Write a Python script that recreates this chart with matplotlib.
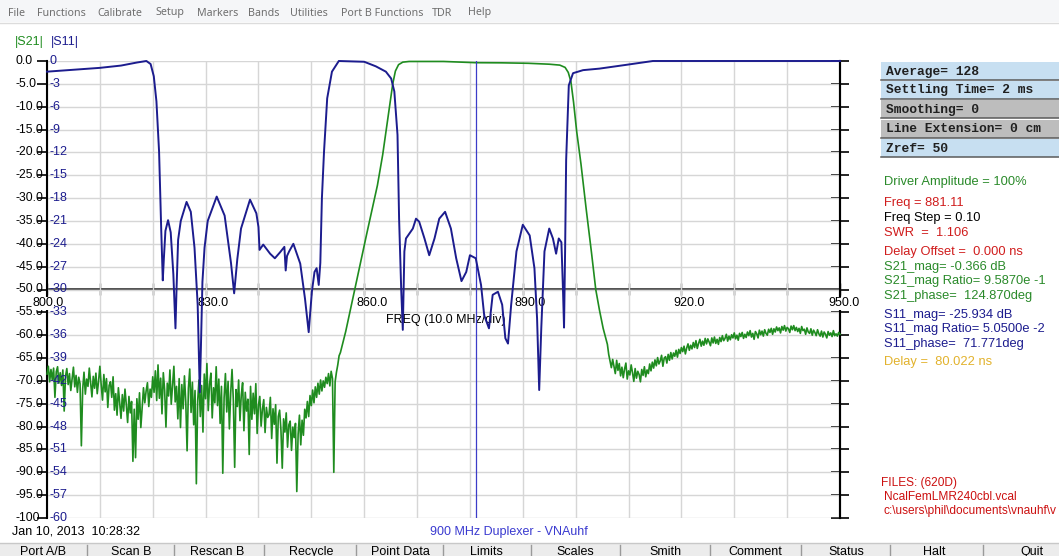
import numpy as np
import matplotlib
matplotlib.use("Agg")
import matplotlib.pyplot as plt
from matplotlib.patches import Rectangle
from matplotlib.transforms import offset_copy

# ---------------- data ----------------
# |S21| noisy stop band 800.00 .. 855.25 MHz (0.25 MHz step)
s21_low_db = [
    -68.5, -66.8, -70.2, -67.5,  -69.8, -67.2, -73.6, -68.0,
    -66.9, -70.5, -68.2, -71.0,  -67.6, -76.6, -69.0, -67.3,
    -70.8, -68.4, -72.1, -69.5,  -67.0, -71.3, -68.8, -72.5,
    -69.2, -70.6, -84.2, -71.8,  -68.1, -72.9, -69.6, -71.2,
    -67.2, -70.4, -73.5, -69.0,  -71.6, -68.3, -72.8, -70.1,
    -66.8, -70.9, -74.2, -68.6,  -72.4, -69.5, -75.8, -71.0,
    -70.2, -73.6, -69.1, -76.4,  -72.8, -77.5, -71.5, -74.9,
    -78.2, -73.0, -76.6, -71.8,  -75.2, -79.1, -73.4, -77.0,
    -74.5, -87.6, -76.2, -86.8,  -73.9, -78.4, -72.6, -80.2,
    -76.0, -71.5, -74.8, -72.2,  -70.4, -75.6, -71.8, -73.6,
    -69.1, -72.5, -67.8, -74.3,  -66.5, -73.8, -69.4, -77.2,
    -68.2, -72.0, -80.1, -70.5,  -73.3, -67.6, -75.1, -70.9,
    -66.8, -74.6, -71.2, -78.3,  -69.5, -80.2, -70.8, -76.1,
    -68.9, -74.7, -85.3, -71.6,  -67.4, -76.9, -70.3, -79.6,
    -72.1, -92.5, -74.4, -69.8,  -77.8, -71.0, -81.2, -68.5,
    -73.9, -66.2, -76.5, -70.7,  -68.3, -78.1, -71.5, -74.8,
    -66.9, -75.4, -69.6, -79.3,  -71.2, -90.2, -73.7, -68.4,
    -76.8, -70.1, -80.5, -72.6,  -67.5, -74.3, -88.9, -71.9,
    -75.6, -69.8, -78.7, -73.1,  -70.4, -80.9, -72.5, -76.6,
    -74.0, -86.1, -71.2, -78.4,  -72.7, -77.2, -70.6, -81.5,
    -75.3, -73.4, -79.9, -76.2,  -74.1, -81.3, -75.8, -78.0,
    -77.4, -73.6, -82.6, -76.1,  -79.5, -75.2, -88.0, -77.8,
    -76.4, -80.7, -89.1, -78.3,  -81.2, -77.0, -84.5, -79.6,
    -78.8, -85.2, -80.1, -82.4,  -79.3, -94.2, -81.7, -77.5,
    -84.0, -78.6, -81.9, -76.2,  -78.1, -74.5, -77.8, -73.2,
    -75.4, -72.0, -74.8, -71.3,  -73.6, -70.5, -72.9, -69.8,
    -72.2, -70.0, -71.4, -69.2,  -70.6, -68.4, -71.1, -67.9,
    -69.5, -90.0, -70.2, -68.1,  -66.5, -64.5,
]
s21_low_start_mhz = 800.0
sweep_step_mhz = 0.25

# |S21| pass band (smooth part)
s21_pass_mhz = [855.5, 856.5, 857.5, 858.5, 859.5, 860.5, 861.5, 862.5, 863.5, 864.3,
                864.9, 865.4, 865.9, 866.5, 867.3, 868.5, 875.0, 881.11, 886.0, 891.0,
                895.0, 897.0, 898.0, 898.6, 899.1, 899.6, 900.2, 901.0, 902.0, 903.0,
                903.8, 904.5, 905.2, 906.0]
s21_pass_db = [-63.8, -59.2, -53.8, -48.4, -43.0, -37.7, -32.5, -27.2, -20.5, -14.0,
               -9.0, -5.0, -2.2, -0.8, -0.25, -0.1, -0.1, -0.37, -0.4, -0.5,
               -0.7, -0.9, -1.4, -2.5, -4.5, -9.0, -15.5, -22.5, -32.5, -42.0,
               -50.0, -54.5, -58.5, -62.0]

# |S21| noisy upper stop band 906.25 .. 950.00 MHz (0.25 MHz step)
s21_high_db = [
    -64.2, -65.6, -67.1, -65.3,
    -66.8, -68.4, -65.5, -67.7,  -66.2, -68.9, -67.0, -69.3,
    -67.4, -66.1, -69.6, -67.8,  -68.7, -66.5, -68.2, -70.1,
    -67.3, -69.4, -67.9, -68.6,  -70.2, -67.5, -68.8, -66.9,
    -69.1, -67.6, -68.4, -66.3,  -67.8, -65.9, -67.2, -65.4,
    -66.7, -64.9, -66.3, -65.6,  -64.4, -66.8, -65.0, -64.7,
    -66.1, -64.2, -65.5, -63.8,  -65.2, -63.9, -64.6, -63.3,
    -64.8, -63.1, -64.0, -62.7,  -63.6, -62.4, -64.1, -62.8,
    -61.9, -63.3, -62.2, -63.0,  -61.6, -62.7, -61.2, -62.9,
    -61.8, -60.9, -62.4, -61.3,  -62.2, -60.7, -61.9, -60.8,
    -61.5, -62.3, -60.6, -61.7,  -60.4, -61.8, -60.9, -62.0,
    -60.5, -61.4, -60.1, -61.2,  -60.7, -59.8, -61.3, -60.2,
    -61.0, -59.9, -60.6, -59.5,  -60.8, -60.0, -61.1, -59.6,
    -60.3, -59.4, -60.7, -59.8,  -60.5, -59.3, -60.1, -59.0,
    -60.4, -59.6, -60.9, -59.2,  -59.7, -60.6, -58.9, -59.9,
    -59.1, -60.2, -58.8, -59.6,  -60.0, -58.7, -59.4, -58.5,
    -59.8, -58.6, -59.3, -58.2,  -59.0, -58.4, -59.5, -58.1,
    -58.9, -57.9, -59.1, -58.3,  -58.6, -59.4, -58.0, -58.8,
    -57.9, -59.0, -58.3, -59.2,  -58.5, -59.6, -58.1, -59.0,
    -58.7, -59.8, -58.4, -59.3,  -59.6, -58.6, -60.0, -58.9,
    -59.4, -60.1, -58.8, -59.7,  -60.2, -59.1, -60.4, -59.3,
    -59.8, -60.6, -59.2, -60.0,  -59.5, -60.3, -59.0, -60.1,
    -59.7, -60.2, -59.4, -59.8,
]
s21_high_start_mhz = 906.25

# |S11|
s11_mhz = [800, 805, 810, 814, 817, 818.8, 819.6, 820.2, 820.7, 821.2,
           821.6, 821.9, 822.1, 822.4, 822.9, 823.4, 823.9, 824.3, 824.5, 824.8,
           825.3, 826.4, 827.2, 827.9, 828.5, 828.9, 829.1, 829.4, 829.8, 830.4,
           832.1, 833.6, 834.8, 835.4, 836.0, 836.7, 838.4, 839.6, 840.0, 840.2,
           840.9, 842.2, 843.1, 844.1, 844.9, 845.15, 845.4, 845.8, 846.6, 847.9,
           848.8, 849.5, 850.1, 850.6, 851.0, 851.4, 851.7, 852.0, 852.4, 853.0,
           853.9, 855.2, 860.0, 862.2, 864.1, 865.1, 865.7, 866.3, 866.6, 867.0,
           867.3, 867.6, 867.9, 869.2, 869.8, 870.4, 871.4, 872.3, 873.3, 874.2,
           875.3, 876.4, 877.4, 878.4, 879.3, 880.0, 881.1, 882.1, 882.7, 883.6,
           884.3, 885.3, 886.1, 886.7, 887.2, 887.8, 888.8, 890.0, 891.3, 892.2,
           892.7, 893.1, 893.5, 894.1, 895.0, 895.7, 896.3, 896.8, 897.3, 897.6,
           897.8, 898.0, 898.2, 898.7, 899.5, 901.4, 904.5, 909.6, 914.6, 950.0]
s11_db = [-1.4, -1.15, -0.9, -0.6, -0.2, 0.0, -0.4, -2.0, -5.3, -11.9,
          -22.0, -28.8, -26.0, -22.3, -20.9, -22.5, -28.0, -35.1, -30.0, -23.5,
          -21.0, -18.5, -19.8, -24.5, -32.0, -43.5, -38.0, -29.0, -24.5, -21.0,
          -17.8, -20.3, -26.5, -30.5, -26.0, -22.0, -18.2, -20.0, -21.8, -24.8,
          -24.1, -25.3, -25.9, -25.1, -24.4, -27.5, -25.6, -25.0, -24.0, -26.6,
          -31.2, -35.6, -30.3, -27.7, -27.2, -29.4, -26.5, -18.0, -11.9, -4.9,
          -1.4, 0.0, -0.1, -0.7, -1.4, -2.3, -4.0, -9.7, -20.7, -30.0,
          -35.3, -25.0, -23.3, -22.0, -20.7, -21.1, -23.3, -25.5, -23.3, -20.7,
          -19.8, -22.0, -25.9, -28.9, -27.7, -25.5, -25.9, -29.4, -33.4, -35.1,
          -30.7, -30.3, -32.0, -36.4, -37.1, -32.0, -25.0, -21.5, -22.9, -27.2,
          -33.8, -43.2, -35.0, -25.0, -22.0, -23.3, -25.3, -23.3, -23.8, -30.0,
          -35.0, -25.0, -13.0, -3.2, -1.6, -1.2, -1.0, -0.5, 0.0, 0.0]

marker_mhz = 881.11

s21_ticks = [0, -5, -10, -15, -20, -25, -30, -35, -40, -45, -50,
             -55, -60, -65, -70, -75, -80, -85, -90, -95, -100]
s21_tick_labels = ["0.0", "-5.0", "-10.0", "-15.0", "-20.0", "-25.0", "-30.0",
                   "-35.0", "-40.0", "-45.0", "-50.0", "-55.0", "-60.0", "-65.0",
                   "-70.0", "-75.0", "-80.0", "-85.0", "-90.0", "-95.0", "-100"]
s11_ticks = [0, -3, -6, -9, -12, -15, -18, -21, -24, -27, -30,
             -33, -36, -39, -42, -45, -48, -51, -54, -57, -60]
s11_tick_labels = ["0", "-3", "-6", "-9", "-12", "-15", "-18", "-21", "-24", "-27",
                   "-30", "-33", "-36", "-39", "-42", "-45", "-48", "-51", "-54",
                   "-57", "-60"]
freq_grid = [800, 810, 820, 830, 840, 850, 860, 870, 880, 890, 900, 910, 920, 930, 940, 950]
freq_labels = [800, 830, 860, 890, 920, 950]

menu_items = ["File", "Functions", "Calibrate", "Setup", "Markers", "Bands",
              "Utilities", "Port B Functions", "TDR", "Help"]
menu_x = [8, 37, 97, 155, 197, 248, 290, 341, 432, 468]

status_boxes = ["Average= 128", "Settling Time= 2 ms", "Smoothing= 0",
                "Line Extension= 0 cm", "Zref= 50"]
status_colors = ["#c7dff1", "#c7dff1", "#bdbdbd", "#bdbdbd", "#c7dff1"]

info_lines = [
    ("Driver Amplitude = 100%", "#2a8a2a", 182),
    ("Freq = 881.11", "#d01c1c", 203),
    ("Freq Step = 0.10", "#000000", 218),
    ("SWR  =  1.106", "#d01c1c", 233),
    ("Delay Offset =  0.000 ns", "#d01c1c", 252),
    ("S21_mag= -0.366 dB", "#2a8a2a", 267),
    ("S21_mag Ratio= 9.5870e -1", "#2a8a2a", 281),
    ("S21_phase=  124.870deg", "#2a8a2a", 296),
    ("S11_mag= -25.934 dB", "#1c1c8e", 315),
    ("S11_mag Ratio= 5.0500e -2", "#1c1c8e", 329),
    ("S11_phase=  71.771deg", "#1c1c8e", 344),
    ("Delay =  80.022 ns", "#e2b22c", 362),
]
file_lines = [("FILES: (620D)", 881, 483), ("NcalFemLMR240cbl.vcal", 884, 497),
              ("c:\\users\\phil\\documents\\vnauhf\\v", 884, 511)]

buttons = ["Port A/B", "Scan B", "Rescan B", "Recycle", "Point Data", "Limits",
           "Scales", "Smith", "Comment", "Status", "Halt", "Quit"]
button_cx = [43, 131, 217, 311, 400, 486, 575, 665, 755, 846, 934, 1032]

# ---------------- figure ----------------
W, H = 1059, 556
SANS = "Liberation Sans"
GREEN = "#1f8c1f"
NAVY = "#1c1c8e"

fig = plt.figure(figsize=(W / 100, H / 100), dpi=100)
fig.patch.set_facecolor("white")

bg = fig.add_axes([0, 0, 1, 1])
bg.set_xlim(0, W)
bg.set_ylim(H, 0)
bg.axis("off")

# menu bar
bg.add_patch(Rectangle((0, 0), W, 22, facecolor="#f5f6f8", edgecolor="none"))
bg.plot([0, W], [22.5, 22.5], color="#dcdcdc", lw=1)
for name, x in zip(menu_items, menu_x):
    bg.text(x, 13, name, fontsize=7.7, family="Noto Sans", color="#6e6e6e",
            ha="left", va="center")

bg.text(15, 42, "|S21|", fontsize=9, family=SANS, color=GREEN, ha="left", va="center")
bg.text(51, 42, "|S11|", fontsize=9, family=SANS, color=NAVY, ha="left", va="center")

# status boxes
box_tops = [62, 81, 100, 120, 139]
for txt, col, top in zip(status_boxes, status_colors, box_tops):
    bg.add_patch(Rectangle((881, top), W - 881, 18, facecolor=col, edgecolor="none"))
    bg.plot([881, W], [top + 18.3, top + 18.3], color="#5a5a5a", lw=1.1)
    bg.text(886, top + 9.5, txt, fontsize=9.4, family="Liberation Mono",
            weight="bold", color="#202020", ha="left", va="center")

for txt, col, y in info_lines:
    bg.text(884, y, txt, fontsize=9.3, family=SANS, color=col, ha="left", va="center")
for txt, x, y in file_lines:
    bg.text(x, y, txt, fontsize=8.6, family=SANS, color="#cc1010", ha="left",
            va="center", clip_on=True)

bg.text(12, 532, "Jan 10, 2013  10:28:32", fontsize=9, family=SANS, color="black",
        ha="left", va="center")
bg.text(509, 532, "900 MHz Duplexer - VNAuhf", fontsize=9, family=SANS,
        color="#3a3ad0", ha="center", va="center")

# button bar
bg.add_patch(Rectangle((0, 543), W, H - 543, facecolor="#ececec", edgecolor="none"))
bg.plot([0, W], [543, 543], color="#c8c8c8", lw=1)
for i, (b, cx) in enumerate(zip(buttons, button_cx)):
    bg.text(cx, 552, b, fontsize=9, family=SANS, color="black", ha="center", va="center")
    if i > 0:
        sx = (button_cx[i - 1] + cx) / 2
        bg.plot([sx, sx], [545, H], color="#9a9a9a", lw=1)

# ---------------- plot axes ----------------
def px_rect(x0, y0, x1, y1):
    return [x0 / W, 1 - y1 / H, (x1 - x0) / W, (y1 - y0) / H]

ax = fig.add_axes(px_rect(47, 61, 840, 518))
ax.set_facecolor("none")
ax.set_xlim(800, 950)
ax.set_ylim(-100, 0)
for side in ("top", "bottom"):
    ax.spines[side].set_visible(False)
for side in ("left", "right"):
    ax.spines[side].set_color("black")
    ax.spines[side].set_linewidth(1.5)

ax.set_xticks(freq_grid)
ax.set_yticks(s21_ticks)
ax.grid(True, color="#d6d6d6", lw=1, zorder=0)
ax.tick_params(axis="x", bottom=False, labelbottom=False)
ax.tick_params(axis="y", left=True, right=False, labelleft=False, length=7,
               width=1.2, direction="out", color="black")
ax.set_axisbelow(True)

# right axis with crossing ticks
axr = ax.secondary_yaxis("right")
axr.set_yticks(s21_ticks)
axr.set_yticklabels([])
axr.tick_params(direction="inout", length=13, width=1.2, labelright=False)
axr.spines["right"].set_linewidth(1.5)

# horizontal frequency axis at -50 dB
axx = ax.secondary_xaxis(0.5)
axx.set_xticks(freq_grid)
axx.set_xticklabels([])
axx.tick_params(direction="inout", length=8, width=1.0, labelbottom=False,
                labeltop=False, color="#222222")
for s in axx.spines.values():
    s.set_color("#222222")
    s.set_linewidth(1.1)

# left S21 labels
t_s21 = offset_copy(ax.get_yaxis_transform(), fig=fig, x=-32, y=0, units="dots")
for v, lab in zip(s21_ticks, s21_tick_labels):
    ax.text(0, v, lab, transform=t_s21, fontsize=8.7, family=SANS, color="black",
            ha="left", va="center", clip_on=False, zorder=3)

# frequency labels
for f in freq_labels:
    if f == freq_labels[0]:
        tr, ha = offset_copy(ax.transData, fig=fig, x=1, y=-14, units="dots"), "center"
    elif f == freq_labels[-1]:
        tr, ha = offset_copy(ax.transData, fig=fig, x=-12, y=-14, units="dots"), "left"
    else:
        tr, ha = offset_copy(ax.transData, fig=fig, x=-8, y=-14, units="dots"), "left"
    ax.text(f, -50, f"{f:.1f}", transform=tr, fontsize=9, family=SANS, color="black",
            ha=ha, va="center", clip_on=False, zorder=4,
            bbox=dict(facecolor="white", edgecolor="none", pad=0.3))

ax.text(0.503, -50, "FREQ (10.0 MHz/div)",
        transform=offset_copy(ax.get_yaxis_transform(), fig=fig, x=0, y=-31, units="dots"),
        fontsize=9, family=SANS, color="black", ha="center", va="center", zorder=4)

# S21 trace
low_f = s21_low_start_mhz + sweep_step_mhz * np.arange(len(s21_low_db))
high_f = s21_high_start_mhz + sweep_step_mhz * np.arange(len(s21_high_db))
s21_f = np.concatenate([low_f, s21_pass_mhz, high_f])
s21_v = np.concatenate([s21_low_db, s21_pass_db, s21_high_db])
ax.plot(s21_f, s21_v, color=GREEN, lw=1.2, zorder=5, clip_on=False)

# S11 on its own scale
ax2 = ax.twinx()
ax2.set_ylim(-60, 0)
ax2.set_facecolor("none")
for s in ax2.spines.values():
    s.set_visible(False)
ax2.set_yticks([])
t_s11 = offset_copy(ax2.get_yaxis_transform(), fig=fig, x=2, y=0, units="dots")
for v, lab in zip(s11_ticks, s11_tick_labels):
    ax2.text(0, v, lab, transform=t_s11, fontsize=9, family=SANS, color=NAVY,
             ha="left", va="center", clip_on=False, zorder=1)
ax2.plot(s11_mhz, s11_db, color=NAVY, lw=1.4, zorder=5, clip_on=False)
ax2.axvline(marker_mhz, color="#3c3cc8", lw=0.9, zorder=4)

fig.savefig("out.png", dpi=100, facecolor="white")
